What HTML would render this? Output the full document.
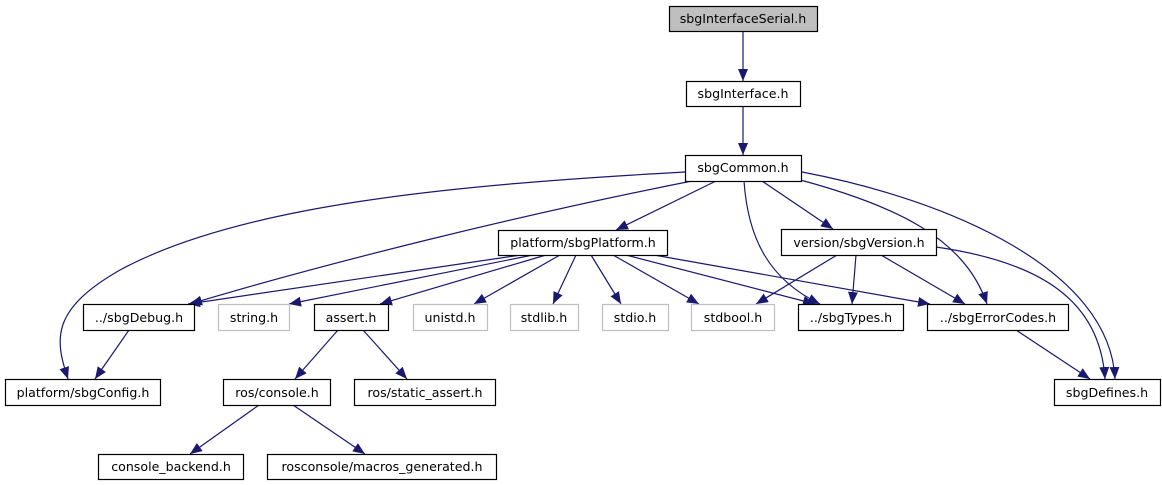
<!DOCTYPE html>
<html><head><meta charset="utf-8"><style>
html,body{margin:0;padding:0;background:#fff;width:1162px;height:485px;overflow:hidden}
svg{display:block}
text{font-family:"DejaVu Sans","Liberation Sans",sans-serif;font-size:12.6px;fill:#000}
</style></head><body>
<svg width="1162" height="485" viewBox="0 0 1162 485" xmlns="http://www.w3.org/2000/svg">
<defs><marker id="a" markerUnits="userSpaceOnUse" markerWidth="14" markerHeight="12" refX="12" refY="5" orient="auto"><path d="M0,0 L12,5 L0,10 z" fill="#191970"/></marker></defs>
<g fill="none" stroke="#191970" stroke-width="1.2" marker-end="url(#a)">
<path d="M743,31 L743,81"/>
<path d="M743,106 L743,155"/>
<path d="M685,172 C450,185 240,205 120,270 C50,310 55,340 68,379"/>
<path d="M692,181 C520,215 330,262 190,304"/>
<path d="M716,181 L616,230"/>
<path d="M744,181 C748,240 770,280 820,304"/>
<path d="M762,181 L833,229"/>
<path d="M785,176 C900,205 965,240 987,304"/>
<path d="M802,172 C950,200 1110,270 1115,379"/>
<path d="M521,255 L188,304"/>
<path d="M533,255 L289,304"/>
<path d="M546,255 L380,304"/>
<path d="M560,255 L474,304"/>
<path d="M576,255 L553,304"/>
<path d="M591,255 L621,304"/>
<path d="M613,255 L699,304"/>
<path d="M626,255 L815,304"/>
<path d="M654,255 L930,304"/>
<path d="M837,255 L756,304"/>
<path d="M856,255 L852,304"/>
<path d="M881,255 L965,304"/>
<path d="M936,247 C1040,262 1100,300 1105,379"/>
<path d="M1016,330 L1090,379"/>
<path d="M129,330 L95,379"/>
<path d="M338,330 L295,379"/>
<path d="M363,330 L407,379"/>
<path d="M259,405 L190,454"/>
<path d="M293,405 L365,454"/>
</g>
<g stroke="#000" stroke-width="1.2" fill="#fff">
<rect x="669.5" y="6.5" width="148" height="25" fill="#bfbfbf"/>
<rect x="686.5" y="81.5" width="114" height="25"/>
<rect x="685.5" y="155.5" width="116" height="26"/>
<rect x="498.5" y="230.5" width="169" height="25"/>
<rect x="781.5" y="229.5" width="155" height="26"/>
<rect x="83.5" y="304.5" width="111" height="26"/>
<rect x="314.5" y="304.5" width="74" height="26"/>
<rect x="798.5" y="304.5" width="105" height="26"/>
<rect x="927.5" y="304.5" width="141" height="26"/>
<rect x="5.5" y="379.5" width="155" height="26"/>
<rect x="223.5" y="379.5" width="107" height="26"/>
<rect x="354.5" y="379.5" width="141" height="26"/>
<rect x="1054.5" y="379.5" width="106" height="26"/>
<rect x="98.5" y="454.5" width="145" height="25"/>
<rect x="267.5" y="454.5" width="229" height="25"/>
</g>
<g stroke="#bfbfbf" stroke-width="1.2" fill="#fff">
<rect x="218.5" y="304.5" width="71" height="26"/>
<rect x="413.5" y="304.5" width="74" height="26"/>
<rect x="510.5" y="304.5" width="68" height="26"/>
<rect x="602.5" y="304.5" width="66" height="26"/>
<rect x="691.5" y="304.5" width="83" height="26"/>
</g>
<g text-anchor="middle">
<text x="743" y="23">sbgInterfaceSerial.h</text>
<text x="743" y="98">sbgInterface.h</text>
<text x="743" y="172">sbgCommon.h</text>
<text x="583" y="247">platform/sbgPlatform.h</text>
<text x="859" y="247">version/sbgVersion.h</text>
<text x="139" y="322">../sbgDebug.h</text>
<text x="254" y="322">string.h</text>
<text x="351" y="322">assert.h</text>
<text x="450" y="322">unistd.h</text>
<text x="544" y="322">stdlib.h</text>
<text x="635" y="322">stdio.h</text>
<text x="733" y="322">stdbool.h</text>
<text x="851" y="322">../sbgTypes.h</text>
<text x="998" y="322">../sbgErrorCodes.h</text>
<text x="83" y="397">platform/sbgConfig.h</text>
<text x="277" y="397">ros/console.h</text>
<text x="425" y="397">ros/static_assert.h</text>
<text x="1107" y="397">sbgDefines.h</text>
<text x="171" y="471">console_backend.h</text>
<text x="382" y="471">rosconsole/macros_generated.h</text>
</g>
</svg>
</body></html>
